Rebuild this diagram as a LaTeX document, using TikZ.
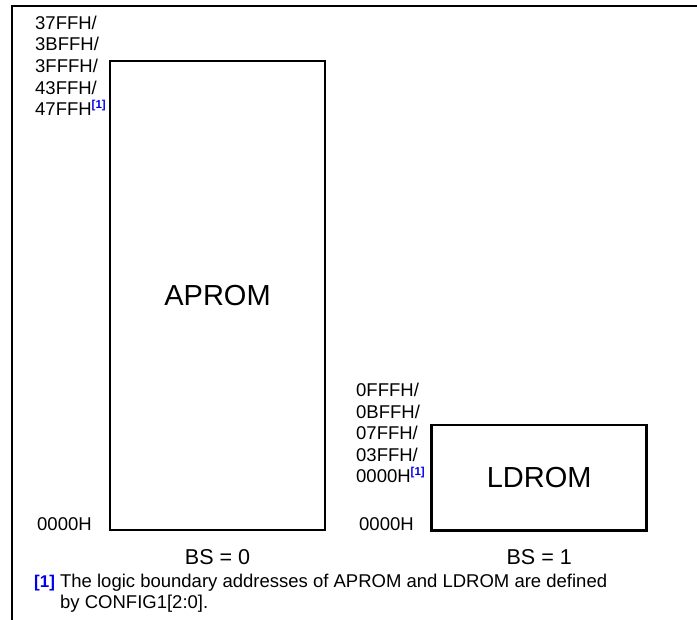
\documentclass[tikz,border=0pt]{standalone}
\usepackage{fontspec}
\setmainfont{Liberation Sans}
\definecolor{refblue}{RGB}{0,0,235}
\newcommand{\refmark}{\raisebox{7pt}{\fontsize{11.5}{11.5}\selectfont\bfseries\color{refblue}[1]}}
\begin{document}
\begin{tikzpicture}[x=1pt,y=-1pt,
  membox/.style={draw, line width=2.5pt, inner sep=0pt, font=\fontsize{29}{29}\selectfont},
  addr/.style={anchor=west, inner sep=0pt, text height=13.2pt, text depth=0pt, font=\fontsize{18.5}{21}\selectfont},
  bslabel/.style={inner sep=0pt, text height=15.4pt, text depth=0pt, font=\fontsize{21.5}{21.5}\selectfont},
  note/.style={anchor=west, inner sep=0pt, text height=13.2pt, text depth=0pt, font=\fontsize{18.5}{21}\selectfont},
  frame/.style={line width=2.3pt}]
\useasboundingbox (0,0) rectangle (697,620);
% frame
\coordinate (ftl) at (12,6);
\coordinate (ftr) at (697,6);
\coordinate (fbl) at (12,620);
\draw[frame] (ftr) -- (ftl) -- (fbl);
% memory boxes
\node[membox, minimum width=215pt, minimum height=469pt] (aprom) at (217.5,295.5) {APROM};
\node[membox, minimum width=215pt, minimum height=105.7pt] (ldrom) at (539.2,477.8) {LDROM};
% APROM addresses
\node[addr] (a1) at (35,22.8) {37FFH/};
\node[addr] (a2) at (35,44.4) {3BFFH/};
\node[addr] (a3) at (35,66) {3FFFH/};
\node[addr] (a4) at (35,87.6) {43FFH/};
\node[addr] (a5) at (35,109.2) {47FFH\refmark};
\node[addr] (a0) at (37,523.5) {0000H};
% LDROM addresses
\node[addr] (l1) at (356,390) {0FFFH/};
\node[addr] (l2) at (356,411.6) {0BFFH/};
\node[addr] (l3) at (356,433.2) {07FFH/};
\node[addr] (l4) at (356,454.8) {03FFH/};
\node[addr] (l5) at (356,476.4) {0000H\refmark};
\node[addr] (l0) at (359,523.5) {0000H};
% BS labels
\node[bslabel] (bs0) at (217.5,557) {BS = 0};
\node[bslabel] (bs1) at (539.2,557) {BS = 1};
% footnote
\node[note] (n1) at (34,580.5) {{\fontsize{17}{17}\selectfont\bfseries\color{refblue}[1]} The logic boundary addresses of APROM and LDROM are defined};
\node[note] (n2) at (60,601.5) {by CONFIG1[2:0].};
\end{tikzpicture}
\end{document}
